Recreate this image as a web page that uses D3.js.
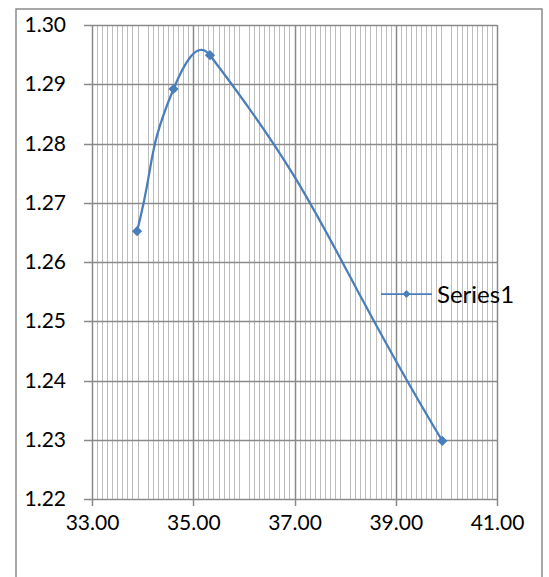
<!DOCTYPE html>
<html>
<head>
<meta charset="utf-8">
<script src="https://cdn.jsdelivr.net/npm/d3@7"></script>
<style>
  html, body { margin: 0; padding: 0; background: #fff; }
  svg { display: block; }
  text { font-family: Lato, "Open Sans", sans-serif; fill: #000; }
</style>
</head>
<body>
<svg id="chart" width="549" height="577"></svg>
<script>
// Series values
const xValues = [33.89, 34.61, 35.33, 39.92];
const yValues = [1.2652, 1.2892, 1.2949, 1.2298];
const seriesName = "Series1";

// Axis ticks
const xTicks = [33, 35, 37, 39, 41];
const yTicks = [1.22, 1.23, 1.24, 1.25, 1.26, 1.27, 1.28, 1.29, 1.30];
const xMinorStep = 0.1;

const svg = d3.select("#chart");
const plot = { left: 92, right: 497, top: 25, bottom: 499 };

const x = d3.scaleLinear().domain([33, 41]).range([plot.left, plot.right]);
const y = d3.scaleLinear().domain([1.22, 1.30]).range([plot.bottom, plot.top]);

// Chart area border
svg.append("rect")
  .attr("x", 16).attr("y", 9)
  .attr("width", 526).attr("height", 600)
  .attr("fill", "#fff")
  .attr("stroke", "#8c8c8c").attr("stroke-width", 1.5);

// Minor vertical gridlines
const minorTicks = d3.range(33, 41 + 1e-9, xMinorStep).filter(v => Math.abs(v - Math.round(v / 2) * 2) > 1e-6);
svg.append("g")
  .selectAll("line")
  .data(minorTicks)
  .join("line")
  .attr("x1", d => Math.round(x(d)) + 0.5).attr("x2", d => Math.round(x(d)) + 0.5)
  .attr("y1", plot.top).attr("y2", plot.bottom)
  .attr("stroke", "#bdbdbd").attr("stroke-width", 1);

// Major gridlines
svg.append("g")
  .selectAll("line")
  .data(xTicks)
  .join("line")
  .attr("x1", d => Math.round(x(d)) + 0.5).attr("x2", d => Math.round(x(d)) + 0.5)
  .attr("y1", plot.top).attr("y2", plot.bottom + 7)
  .attr("stroke", "#8a8a8a").attr("stroke-width", 1.5);

svg.append("g")
  .selectAll("line")
  .data(yTicks)
  .join("line")
  .attr("x1", plot.left - 8).attr("x2", plot.right)
  .attr("y1", d => Math.round(y(d)) + 0.5).attr("y2", d => Math.round(y(d)) + 0.5)
  .attr("stroke", "#8a8a8a").attr("stroke-width", 1.5);

// Axis labels (domain and tick lines replaced by the gridlines above)
const yAxis = svg.append("g")
  .attr("transform", `translate(${plot.left},0)`)
  .call(d3.axisLeft(y).tickValues(yTicks).tickFormat(d3.format(".2f")).tickSize(0).tickPadding(26));
yAxis.select(".domain").remove();
yAxis.selectAll("text")
  .style("font-family", "Lato, 'Open Sans', sans-serif")
  .attr("font-size", 21).attr("fill", "#000");

const xAxis = svg.append("g")
  .attr("transform", `translate(0,${plot.bottom})`)
  .call(d3.axisBottom(x).tickValues(xTicks).tickFormat(d3.format(".2f")).tickSize(0).tickPadding(16));
xAxis.select(".domain").remove();
xAxis.selectAll("text")
  .style("font-family", "Lato, 'Open Sans', sans-serif")
  .attr("font-size", 21).attr("fill", "#000");

// Smoothed series line: cubic Bézier segments whose control points follow
// the neighbouring points, scaled by relative segment lengths.
const pts = xValues.map((v, i) => [x(v), y(yValues[i])]);
function smoothPath(p, k) {
  const path = d3.path();
  const dist = (a, b) => Math.hypot(b[0] - a[0], b[1] - a[1]);
  path.moveTo(p[0][0], p[0][1]);
  for (let i = 0; i < p.length - 1; i++) {
    const p0 = p[Math.max(i - 1, 0)], p1 = p[i], p2 = p[i + 1], p3 = p[Math.min(i + 2, p.length - 1)];
    const d01 = dist(p0, p1), d12 = dist(p1, p2), d23 = dist(p2, p3);
    const f1 = k * d12 / (d01 + d12), f2 = k * d12 / (d12 + d23);
    const c1 = [p1[0] + f1 * (p2[0] - p0[0]), p1[1] + f1 * (p2[1] - p0[1])];
    const c2 = [p2[0] - f2 * (p3[0] - p1[0]), p2[1] - f2 * (p3[1] - p1[1])];
    path.bezierCurveTo(c1[0], c1[1], c2[0], c2[1], p2[0], p2[1]);
  }
  return path.toString();
}

const blue = "#4a7ebb";
svg.append("path")
  .attr("d", smoothPath(pts, 0.5))
  .attr("fill", "none")
  .attr("stroke", blue).attr("stroke-width", 2.25);

const diamond = d3.symbol().type(d3.symbolSquare).size(52);
svg.append("g")
  .selectAll("path")
  .data(pts)
  .join("path")
  .attr("transform", d => `translate(${d[0]},${d[1]}) rotate(45)`)
  .attr("d", diamond)
  .attr("fill", blue);

// Legend
const lg = svg.append("g").attr("transform", "translate(381,294)");
lg.append("line").attr("x1", 0).attr("x2", 51).attr("y1", 0).attr("y2", 0)
  .attr("stroke", blue).attr("stroke-width", 1.75);
lg.append("path").attr("transform", "translate(25.5,0) rotate(45)")
  .attr("d", d3.symbol().type(d3.symbolSquare).size(32)).attr("fill", blue);
lg.append("text").attr("x", 56).attr("y", 0).attr("dy", "0.36em")
  .attr("font-size", 24).text(seriesName);
</script>
</body>
</html>
